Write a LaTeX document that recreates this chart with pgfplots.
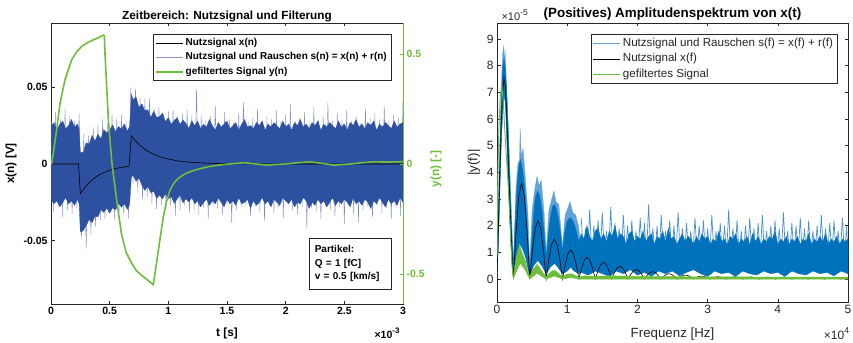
\documentclass[border=0pt]{standalone}
\usepackage{pgfplots}
\pgfplotsset{compat=1.18}
\usepackage{fontspec}
\setmainfont{Liberation Sans}
\definecolor{lblue}{RGB}{45,80,160}
\definecolor{lbluelight}{RGB}{125,140,205}
\definecolor{legblue}{RGB}{140,150,210}
\definecolor{mgreen}{RGB}{110,190,60}
\definecolor{rblue}{RGB}{0,114,189}
\definecolor{rbluelight}{RGB}{95,162,218}
\definecolor{rspike}{RGB}{70,145,210}
\definecolor{axgray}{RGB}{38,38,38}
\newcommand{\fLtick}{\fontsize{10.5bp}{12.6bp}\selectfont\bfseries}
\newcommand{\fLleg}{\fontsize{10bp}{12bp}\selectfont\bfseries}
\newcommand{\fLlab}{\fontsize{11.8bp}{14bp}\selectfont\bfseries}
\newcommand{\fRtick}{\fontsize{12bp}{14bp}\selectfont}
\newcommand{\fRleg}{\fontsize{11.6bp}{14bp}\selectfont}
\newcommand{\fRlab}{\fontsize{13.3bp}{16bp}\selectfont}
\newcommand{\fRtitle}{\fontsize{13.4bp}{16bp}\selectfont\bfseries}
\begin{document}
\begin{tikzpicture}[x=1bp,y=1bp]
\path[use as bounding box] (0,0) rectangle (853,342);
% ================= LEFT: time domain =================
\begin{axis}[
  at={(51bp,38bp)}, anchor=south west, scale only axis,
  width=352bp, height=281bp,
  xmin=0, xmax=3, ymin=-0.0913, ymax=0.0919,
  xtick={0,0.5,1,1.5,2,2.5,3},
  xticklabels={0,0.5,1,1.5,2,2.5,3},
  ytick={-0.05,0,0.05}, yticklabels={-0.05,0,0.05},
  scaled y ticks=false, scaled x ticks=false,
  ytick pos=left, xtick pos=both,
  tick align=inside, major tick length=3.5bp,
  axis line style={axgray, line width=0.5bp},
  tick style={axgray, line width=0.5bp},
  ticklabel style={font=\fLtick, text=black},
  /pgf/number format/assume math mode=true,
  xlabel={t [s]}, ylabel={x(n) [V]},
  xlabel style={font=\fLlab, at={(axis description cs:0.5,-0.114)}, anchor=base},
  ylabel style={font=\fLlab, at={(axis description cs:-0.1136,0.5)}, anchor=center},
  every axis title shift=0pt,
  title={Zeitbereich: Nutzsignal und Filterung},
  title style={font=\fLlab, at={(axis description cs:0.5,1.0142)}, anchor=base},
  legend cell align=left,
  legend image code/.code={\draw[#1] (0bp,0bp) -- (27bp,0bp);},
  legend style={at={(0.966,0.961)}, anchor=north east, draw=axgray, line width=0.5bp,
    fill=white, font=\fLleg, inner xsep=2bp, inner ysep=1.5bp,
    nodes={text height=7.5bp, text depth=2.5bp, inner ysep=2.25bp, inner xsep=2bp}},
]
% noise spikes (light)
\addplot[lbluelight, line width=0.4bp, forget plot] coordinates {
(0,0.030)(0.02,-0.031)(0.04,0.034)(0.06,-0.028)(0.08,0.029)(0.10,-0.035)(0.12,0.036)(0.14,-0.030)(0.16,0.031)(0.18,-0.033)(0.20,0.028)(0.22,-0.029)(0.24,0.033)(0.26,-0.0483)(0.28,0.020)(0.30,-0.0552)(0.32,0.0185)(0.34,-0.0461)(0.36,0.0242)(0.38,-0.0407)(0.40,0.0254)(0.42,-0.0368)(0.44,0.029)(0.46,-0.0363)(0.48,0.0264)(0.50,-0.0321)(0.52,0.0324)(0.54,-0.0362)(0.56,0.0292)(0.58,-0.0315)(0.60,0.0318)(0.62,-0.033)(0.64,0.0283)(0.66,-0.0355)(0.68,0.050)(0.70,-0.0132)(0.72,0.0491)(0.74,-0.0185)(0.76,0.0431)(0.78,-0.0232)(0.80,0.0427)(0.82,-0.0214)(0.84,0.0427)(0.86,-0.0261)(0.88,0.0362)(0.90,-0.0295)(0.92,0.037)(0.94,-0.0266)(0.96,0.032)(0.98,-0.0305)(1.00,0.0342)(1.02,-0.0271)(1.04,0.0356)(1.06,-0.0337)(1.08,0.031)(1.10,-0.0302)(1.12,0.0326)(1.14,-0.0275)(1.16,0.0353)(1.18,-0.0318)(1.20,0.0311)(1.22,-0.030)(1.24,0.049)(1.26,-0.0332)(1.28,0.0317)(1.30,-0.0284)
(1.32,0.028)(1.34,-0.036)(1.36,0.031)(1.38,-0.027)(1.40,0.038)(1.42,-0.029)(1.44,0.027)(1.46,-0.033)(1.48,0.034)(1.50,-0.027)(1.52,0.029)(1.54,-0.038)(1.56,0.027)(1.58,-0.030)(1.60,0.033)(1.62,-0.028)(1.64,0.040)(1.66,-0.027)(1.68,0.028)(1.70,-0.034)(1.72,0.030)(1.74,-0.028)(1.76,0.036)(1.78,-0.031)(1.80,0.027)(1.82,-0.037)(1.84,0.031)(1.86,-0.027)(1.88,0.029)(1.90,-0.032)(1.92,0.035)(1.94,-0.028)(1.96,0.028)(1.98,-0.035)(2.00,0.032)(2.02,-0.027)(2.04,0.039)(2.06,-0.030)(2.08,0.028)(2.10,-0.033)(2.12,0.030)(2.14,-0.028)(2.16,0.034)(2.18,-0.042)(2.20,0.027)(2.22,-0.029)(2.24,0.037)(2.26,-0.031)(2.28,0.029)(2.30,-0.036)(2.32,0.031)(2.34,-0.027)(2.36,0.040)(2.38,-0.030)(2.40,0.028)(2.42,-0.034)(2.44,0.033)(2.46,-0.028)(2.48,0.029)(2.50,-0.039)(2.52,0.035)(2.54,-0.027)(2.56,0.028)(2.58,-0.033)(2.60,0.031)(2.62,-0.038)(2.64,0.027)(2.66,-0.030)(2.68,0.036)(2.70,-0.028)(2.72,0.030)(2.74,-0.035)(2.76,0.033)(2.78,-0.027)(2.80,0.029)(2.82,-0.032)(2.84,0.038)(2.86,-0.029)(2.88,0.028)(2.90,-0.036)(2.92,0.032)(2.94,-0.028)(2.96,0.030)(2.98,-0.034)(3.00,0.042)};
% dense noise core
\addplot[draw=lblue, line width=0.3bp, fill=lblue, forget plot] coordinates {
(0,0.024)(0.025,0.027)(0.05,0.022)(0.075,0.026)(0.1,0.028)(0.125,0.023)(0.15,0.025)(0.175,0.029)(0.2,0.024)(0.225,0.026)(0.24,0.023)
(0.25,0.0076)(0.275,0.0075)(0.3,0.0138)(0.325,0.0128)(0.35,0.0186)(0.375,0.015)(0.4,0.0194)(0.425,0.0164)(0.45,0.0224)(0.475,0.0202)(0.5,0.0219)(0.525,0.0255)(0.55,0.021)(0.575,0.0244)(0.6,0.0228)(0.625,0.0261)(0.65,0.0214)(0.67,0.0245)
(0.685,0.0453)(0.7,0.0418)(0.725,0.0437)(0.75,0.0368)(0.775,0.0391)(0.8,0.0347)(0.825,0.0354)(0.85,0.0303)(0.875,0.0343)(0.9,0.0305)(0.925,0.0308)(0.95,0.0332)(0.975,0.0276)(1.0,0.0302)(1.025,0.0258)(1.05,0.0284)(1.075,0.0301)(1.1,0.0258)(1.125,0.0286)(1.15,0.0264)(1.175,0.0232)(1.2,0.0281)
(1.225,0.025)(1.25,0.028)(1.275,0.023)(1.3,0.026)(1.325,0.024)(1.35,0.029)(1.375,0.025)(1.4,0.022)(1.425,0.027)(1.45,0.024)(1.475,0.026)(1.5,0.028)(1.525,0.023)(1.55,0.025)(1.575,0.027)(1.6,0.022)(1.625,0.026)(1.65,0.029)(1.675,0.024)(1.7,0.025)(1.725,0.023)(1.75,0.027)(1.775,0.025)(1.8,0.028)(1.825,0.022)(1.85,0.026)(1.875,0.024)(1.9,0.027)(1.925,0.025)(1.95,0.023)(1.975,0.028)(2.0,0.024)(2.025,0.026)(2.05,0.022)(2.075,0.027)(2.1,0.025)(2.125,0.029)(2.15,0.024)(2.175,0.026)(2.2,0.023)(2.225,0.027)(2.25,0.025)(2.275,0.028)(2.3,0.022)(2.325,0.026)(2.35,0.024)(2.375,0.027)(2.4,0.025)(2.425,0.023)(2.45,0.028)(2.475,0.024)(2.5,0.026)(2.525,0.022)(2.55,0.027)(2.575,0.025)(2.6,0.029)(2.625,0.024)(2.65,0.026)(2.675,0.023)(2.7,0.027)(2.725,0.025)(2.75,0.028)(2.775,0.022)(2.8,0.026)(2.825,0.024)(2.85,0.027)(2.875,0.025)(2.9,0.023)(2.925,0.028)(2.95,0.024)(2.975,0.026)(3.0,0.027)
(3.0,-0.025)(2.975,-0.022)(2.95,-0.027)(2.925,-0.024)(2.9,-0.026)(2.875,-0.023)(2.85,-0.028)(2.825,-0.025)(2.8,-0.022)(2.775,-0.026)(2.75,-0.024)(2.725,-0.029)(2.7,-0.025)(2.675,-0.023)(2.65,-0.027)(2.625,-0.024)(2.6,-0.026)(2.575,-0.022)(2.55,-0.028)(2.525,-0.025)(2.5,-0.023)(2.475,-0.026)(2.45,-0.024)(2.425,-0.027)(2.4,-0.022)(2.375,-0.025)(2.35,-0.028)(2.325,-0.024)(2.3,-0.026)(2.275,-0.023)(2.25,-0.027)(2.225,-0.025)(2.2,-0.029)(2.175,-0.024)(2.15,-0.022)(2.125,-0.026)(2.1,-0.025)(2.075,-0.028)(2.05,-0.023)(2.025,-0.026)(2.0,-0.024)(1.975,-0.022)(1.95,-0.027)(1.925,-0.025)(1.9,-0.023)(1.875,-0.028)(1.85,-0.024)(1.825,-0.026)(1.8,-0.022)(1.775,-0.025)(1.75,-0.027)(1.725,-0.024)(1.7,-0.029)(1.675,-0.023)(1.65,-0.025)(1.625,-0.026)(1.6,-0.022)(1.575,-0.027)(1.55,-0.024)(1.525,-0.026)(1.5,-0.023)(1.475,-0.028)(1.45,-0.025)(1.425,-0.022)(1.4,-0.026)(1.375,-0.024)(1.35,-0.027)(1.325,-0.023)(1.3,-0.025)(1.275,-0.028)(1.25,-0.024)(1.225,-0.026)
(1.2,-0.0219)(1.175,-0.0248)(1.15,-0.0226)(1.125,-0.0254)(1.1,-0.0202)(1.075,-0.0229)(1.05,-0.0256)(1.025,-0.0212)(1.0,-0.0228)(0.975,-0.0194)(0.95,-0.0228)(0.925,-0.0202)(0.9,-0.0225)(0.875,-0.0177)(0.85,-0.0187)(0.825,-0.0146)(0.8,-0.0173)(0.775,-0.0139)(0.75,-0.0092)(0.725,-0.0113)(0.7,-0.0072)(0.685,-0.0087)
(0.67,-0.0265)(0.65,-0.0296)(0.625,-0.0259)(0.6,-0.0282)(0.575,-0.0256)(0.55,-0.030)(0.525,-0.0285)(0.5,-0.0321)(0.475,-0.0288)(0.45,-0.0316)(0.425,-0.0296)(0.4,-0.0346)(0.375,-0.034)(0.35,-0.0384)(0.325,-0.0362)(0.3,-0.0402)(0.275,-0.0435)(0.25,-0.0444)
(0.24,-0.026)(0.225,-0.023)(0.2,-0.027)(0.175,-0.024)(0.15,-0.026)(0.125,-0.022)(0.1,-0.025)(0.075,-0.028)(0.05,-0.024)(0.025,-0.026)(0,-0.023)} -- cycle;
% useful signal x(n)
\addplot[black, line width=0.6bp] coordinates {
(0,0)(0.235,0)(0.25,-0.0194)(0.27,-0.0171)(0.30,-0.0142)(0.33,-0.0118)(0.36,-0.0098)(0.40,-0.0076)(0.45,-0.0056)(0.50,-0.0041)(0.55,-0.0030)(0.60,-0.0022)(0.65,-0.0016)(0.665,-0.0015)(0.685,0.0183)(0.71,0.0159)(0.74,0.0135)(0.78,0.0108)(0.82,0.0086)(0.87,0.0065)(0.93,0.0047)(1.00,0.0032)(1.08,0.0020)(1.17,0.0012)(1.28,0.0007)(1.40,0.0003)(1.60,0.0001)(1.80,0)(3.0,0)};
\addlegendentry{Nutzsignal x(n)}
\addlegendimage{legblue, line width=0.8bp}
\addlegendentry{Nutzsignal und Rauschen s(n) = x(n) + r(n)}
\addlegendimage{mgreen, line width=1.6bp}
\addlegendentry{gefiltertes Signal y(n)}
\end{axis}
\begin{axis}[
  at={(51bp,38bp)}, anchor=south west, scale only axis,
  width=352bp, height=281bp,
  xmin=0, xmax=3, ymin=-0.635, ymax=0.64,
  axis y line*=right, axis x line=none,
  ytick={-0.5,0,0.5}, yticklabels={-0.5,0,0.5},
  scaled y ticks=false,
  tick align=inside, major tick length=3.5bp,
  y axis line style={mgreen, line width=0.5bp},
  ytick style={mgreen, line width=0.5bp},
  yticklabel style={font=\fLtick, text=mgreen},
  /pgf/number format/assume math mode=true,
  ylabel={y(n) [-]},
  ylabel style={font=\fLlab, text=mgreen, at={(axis description cs:1.094,0.48)}, anchor=center},
]
\addplot[mgreen, line width=1.6bp] coordinates {
(0,0)(0.006,0.003)(0.02,0.05)(0.048,0.155)(0.077,0.276)(0.119,0.382)(0.176,0.473)(0.22,0.51)(0.261,0.533)(0.304,0.549)(0.361,0.564)(0.40,0.572)(0.446,0.585)(0.455,0.58)(0.46,0.503)(0.489,0.2)(0.52,0.0)(0.56,-0.164)(0.60,-0.315)(0.64,-0.40)(0.688,-0.451)(0.73,-0.485)(0.773,-0.505)(0.82,-0.525)(0.872,-0.547)(0.915,-0.391)(0.957,-0.24)(0.985,-0.17)(1.014,-0.118)(1.05,-0.085)(1.085,-0.065)(1.15,-0.042)(1.227,-0.027)(1.33,-0.013)(1.426,-0.005)(1.55,0.002)(1.653,0.006)(1.75,0.0)(1.84,-0.005)(1.92,-0.002)(2.0,0.0)(2.1,0.006)(2.21,0.01)(2.3,0.004)(2.41,-0.005)(2.55,0.0)(2.65,0.006)(2.75,0.01)(2.85,0.009)(2.98,0.01)(3.0,0.012)};
\node[draw=axgray, fill=white, line width=0.5bp, align=left, anchor=south east,
  text width=70bp, inner xsep=6bp, inner ysep=7bp,
  font=\fontsize{10bp}{13.4bp}\selectfont\bfseries]
  at (rel axis cs:0.966,0.053) {Partikel:\\Q = 1 [fC]\\v = 0.5 [km/s]};
\end{axis}
\node[anchor=base east, font=\fLtick] at (403,4) {×10\raisebox{0.45em}{\fontsize{8bp}{9bp}\selectfont -3}};
% ================= RIGHT: spectrum =================
\begin{axis}[
  at={(497bp,40bp)}, anchor=south west, scale only axis,
  width=351bp, height=279bp,
  xmin=0, xmax=5, ymin=-0.86, ymax=9.6,
  xtick={0,1,2,3,4,5}, ytick={0,1,2,3,4,5,6,7,8,9},
  xtick pos=both, ytick pos=both,
  tick align=inside, major tick length=3.5bp,
  axis line style={axgray, line width=0.5bp},
  tick style={axgray, line width=0.5bp},
  ticklabel style={font=\fRtick, text=axgray},
  /pgf/number format/assume math mode=true,
  xlabel={Frequenz [Hz]}, ylabel={|y(f)|},
  xlabel style={font=\fRlab, text=axgray, at={(axis description cs:0.5,-0.128)}, anchor=base},
  ylabel style={font=\fRlab, text=axgray, at={(axis description cs:-0.0655,0.5)}, anchor=center},
  every axis title shift=0pt,
  title={(Positives) Amplitudenspektrum von x(t)},
  title style={font=\fRtitle, text=black, at={(axis description cs:0.5,1.0205)}, anchor=base},
  legend cell align=left,
  legend image code/.code={\draw[#1] (0bp,0bp) -- (27bp,0bp);},
  legend style={at={(0.9695,0.9595)}, anchor=north east, draw=axgray, line width=0.5bp,
    fill=white, font=\fRleg, text=axgray, inner xsep=2bp, inner ysep=1.5bp,
    nodes={text height=8.5bp, text depth=2.8bp, inner ysep=2bp, inner xsep=2bp}},
]
\addlegendimage{rbluelight, line width=0.9bp}
\addlegendentry{Nutzsignal und Rauschen s(f) = x(f) + r(f)}
% noisy spectrum, light spikes in the lobe region
\addplot[draw=rbluelight, line width=0.3bp, fill=rbluelight, forget plot] coordinates {
(0,0.5)(0.03,4.0)(0.06,7.2)(0.08,8.4)(0.095,8.75)(0.105,8.0)(0.115,8.6)(0.13,7.6)(0.16,5.8)(0.2,2.9)(0.233,0.6)(0.27,3.4)(0.30,4.4)(0.32,4.3)(0.33,5.65)(0.345,4.6)(0.37,4.9)(0.4,3.9)(0.44,2.5)(0.467,0.5)(0.5,2.6)(0.54,3.4)(0.57,3.85)(0.6,3.5)(0.63,3.7)(0.67,2.5)(0.70,1.0)(0.74,2.6)(0.78,3.0)(0.81,3.3)(0.84,2.9)(0.88,2.8)(0.933,1.2)(0.97,2.4)(1.0,2.6)(1.04,2.9)(1.08,2.5)(1.12,2.4)(1.16,2.0)(1.2,1.2)
(1.2,0.25)(1.167,0.2)(1.1,0.3)(1.05,0.45)(1.0,0.3)(0.933,0.2)(0.88,0.4)(0.82,0.6)(0.76,0.45)(0.70,0.2)(0.64,0.5)(0.58,0.7)(0.52,0.5)(0.467,0.1)(0.45,0.3)(0.41,0.8)(0.37,1.1)(0.33,1.3)(0.29,0.9)(0.25,0.3)(0.233,0.1)(0.22,0.3)(0.2,1.2)(0.18,2.4)(0.16,3.7)(0.14,5.3)(0.12,6.6)(0.1,6.9)(0.08,6.3)(0.06,5.1)(0.04,3.3)(0.02,1.3)(0,0)} -- cycle;
% noisy spectrum, light spikes at higher frequencies
\addplot[rspike, line width=0.7bp, forget plot] coordinates {
(1.20,2.3)(1.23,0.9)(1.26,1.9)(1.29,0.9)(1.32,2.6)(1.35,0.9)(1.38,2.0)(1.41,0.9)(1.44,2.2)(1.47,0.9)(1.50,2.5)(1.53,0.9)(1.56,1.8)(1.59,0.9)(1.62,2.7)(1.65,0.9)(1.68,2.1)(1.71,0.9)(1.74,1.9)(1.77,0.9)(1.80,2.4)(1.83,0.9)(1.86,2.0)(1.89,0.9)(1.92,2.2)(1.95,0.9)(1.98,1.8)(2.01,0.9)(2.04,2.3)(2.07,0.9)(2.10,2.1)(2.13,0.9)(2.16,2.8)(2.19,0.9)(2.22,1.9)(2.25,0.9)(2.28,2.0)(2.31,0.9)(2.34,2.4)(2.37,0.9)(2.40,1.8)(2.43,0.9)(2.46,2.2)(2.49,0.9)(2.52,2.0)(2.55,0.9)(2.58,2.5)(2.61,0.9)(2.64,1.9)(2.67,0.9)(2.70,2.1)(2.73,0.9)(2.76,1.8)(2.79,0.9)(2.82,2.3)(2.85,0.9)(2.88,2.0)(2.91,0.9)(2.94,2.2)(2.97,0.9)(3.00,1.9)(3.03,0.9)(3.06,2.4)(3.09,0.9)(3.12,1.8)(3.15,0.9)(3.18,2.1)(3.21,0.9)(3.24,2.0)(3.27,0.9)(3.30,2.6)(3.33,0.9)(3.36,1.9)(3.39,0.9)(3.42,2.2)(3.45,0.9)(3.48,1.8)(3.51,0.9)(3.54,2.0)(3.57,0.9)(3.60,2.3)(3.63,0.9)(3.66,1.9)(3.69,0.9)(3.72,2.1)(3.75,0.9)(3.78,2.4)(3.81,0.9)(3.84,1.8)(3.87,0.9)(3.90,2.0)(3.93,0.9)(3.96,2.2)(3.99,0.9)(4.02,1.9)(4.05,0.9)(4.08,2.5)(4.11,0.9)(4.14,1.8)(4.17,0.9)(4.20,2.1)(4.23,0.9)(4.26,2.0)(4.29,0.9)(4.32,2.3)(4.35,0.9)(4.38,1.9)(4.41,0.9)(4.44,2.2)(4.47,0.9)(4.50,1.8)(4.53,0.9)(4.56,2.0)(4.59,0.9)(4.62,2.4)(4.65,0.9)(4.68,1.9)(4.71,0.9)(4.74,2.1)(4.77,0.9)(4.80,2.2)(4.83,0.9)(4.86,1.8)(4.89,0.9)(4.92,2.3)(4.95,0.9)(4.98,2.0)(5.0,0.9)};
% noisy spectrum, dense part
\addplot[draw=rblue, line width=0.3bp, fill=rblue, forget plot] coordinates {
(0,0.3)(0.02,2.6)(0.04,4.6)(0.06,6.5)(0.08,7.9)(0.1,8.3)(0.12,7.9)(0.14,6.9)(0.16,5.4)(0.18,3.8)(0.2,2.4)(0.22,1.1)(0.233,0.5)(0.25,1.6)(0.27,2.8)(0.29,3.7)(0.31,4.2)(0.33,4.5)(0.35,4.3)(0.37,4.0)(0.39,3.5)(0.41,2.8)(0.43,2.0)(0.45,1.1)(0.467,0.4)(0.49,1.3)(0.52,2.4)(0.55,3.1)(0.58,3.3)(0.61,3.1)(0.64,2.6)(0.67,1.8)(0.70,0.8)(0.73,1.6)(0.76,2.3)(0.79,2.7)(0.82,2.8)(0.85,2.6)(0.88,2.2)(0.91,1.6)(0.933,1.0)(0.96,1.7)(1.0,2.2)(1.04,2.3)(1.08,2.2)(1.12,1.9)(1.167,1.4)
(1.2,1.7)(1.24,1.5)(1.28,2.0)(1.32,1.6)(1.36,1.4)(1.40,1.8)(1.44,1.9)(1.48,1.5)(1.52,1.7)(1.56,1.4)(1.60,1.8)(1.64,1.6)(1.68,2.0)(1.72,1.5)(1.76,1.7)(1.80,1.6)(1.84,1.3)(1.88,1.7)(1.92,1.8)(1.96,1.4)(2.00,1.6)(2.04,1.5)(2.08,1.8)(2.12,1.4)(2.16,1.6)(2.20,1.7)(2.24,1.3)(2.28,1.6)(2.32,1.5)(2.36,1.8)(2.40,1.4)(2.44,1.9)(2.48,1.5)(2.52,1.6)(2.56,1.3)(2.60,1.5)(2.64,1.7)(2.68,1.4)(2.72,1.6)(2.76,1.5)(2.80,1.3)(2.84,1.6)(2.88,1.4)(2.92,1.7)(2.96,1.5)(3.00,1.6)(3.04,1.3)(3.08,1.5)(3.12,1.4)(3.16,1.8)(3.20,1.4)(3.24,1.5)(3.28,1.3)(3.32,1.6)(3.36,1.5)(3.40,1.7)(3.44,1.3)(3.48,1.5)(3.52,1.4)(3.56,1.6)(3.60,1.3)(3.64,1.7)(3.68,1.4)(3.72,1.6)(3.76,1.3)(3.80,1.5)(3.84,1.4)(3.88,1.6)(3.92,1.5)(3.96,1.8)(4.00,1.3)(4.04,1.5)(4.08,1.4)(4.12,1.6)(4.16,1.3)(4.20,1.5)(4.24,1.4)(4.28,1.6)(4.32,1.3)(4.36,1.5)(4.40,1.4)(4.44,1.7)(4.48,1.3)(4.52,1.5)(4.56,1.4)(4.60,1.6)(4.64,1.4)(4.68,1.7)(4.72,1.3)(4.76,1.5)(4.80,1.4)(4.84,1.6)(4.88,1.3)(4.92,1.5)(4.96,1.4)(5.00,1.5)
(5.0,0.2)(4.9,0.3)(4.8,0.12)(4.7,0.25)(4.6,0.2)(4.5,0.3)(4.4,0.15)(4.3,0.2)(4.2,0.3)(4.1,0.1)(4.0,0.25)(3.9,0.2)(3.8,0.3)(3.7,0.15)(3.6,0.2)(3.5,0.3)(3.4,0.1)(3.3,0.25)(3.2,0.2)(3.1,0.3)(3.0,0.1)(2.9,0.2)(2.8,0.35)(2.7,0.25)(2.6,0.12)(2.5,0.3)(2.4,0.2)(2.3,0.3)(2.2,0.1)(2.1,0.25)(2.0,0.15)(1.9,0.35)(1.8,0.2)(1.7,0.3)(1.6,0.1)(1.5,0.2)(1.4,0.3)(1.3,0.15)(1.2,0.25)(1.167,0.2)(1.1,0.3)(1.05,0.45)(1.0,0.3)(0.933,0.2)(0.88,0.4)(0.82,0.6)(0.76,0.45)(0.70,0.2)(0.64,0.5)(0.58,0.7)(0.52,0.5)(0.467,0.1)(0.45,0.3)(0.41,0.8)(0.37,1.1)(0.33,1.3)(0.29,0.9)(0.25,0.3)(0.233,0.1)(0.22,0.3)(0.2,1.2)(0.18,2.4)(0.16,3.7)(0.14,5.3)(0.12,6.6)(0.1,6.9)(0.08,6.3)(0.06,5.1)(0.04,3.3)(0.02,1.3)(0,0)} -- cycle;
% useful signal spectrum x(f)
\addplot[black, line width=0.6bp] coordinates {
(0,0)(0.02,2.0)(0.04,4.0)(0.06,5.8)(0.08,7.0)(0.1,7.55)(0.12,7.2)(0.14,6.0)(0.162,4.45)(0.18,3.1)(0.2,1.8)(0.22,0.6)(0.2333,0)
(0.2722,1.8)(0.3111,3.12)(0.35,3.6)(0.3889,3.12)(0.4278,1.8)(0.4667,0)
(0.5056,1.1)(0.5444,1.905)(0.5833,2.2)(0.6222,1.905)(0.6611,1.1)(0.7,0)
(0.7389,0.75)(0.7778,1.3)(0.8167,1.5)(0.8556,1.3)(0.8944,0.75)(0.9333,0)
(0.9722,0.55)(1.0111,0.953)(1.05,1.1)(1.0889,0.953)(1.1278,0.55)(1.1667,0)
(1.2056,0.41)(1.2444,0.71)(1.2833,0.82)(1.3222,0.71)(1.3611,0.41)(1.4,0)
(1.4389,0.315)(1.4778,0.546)(1.5167,0.63)(1.5556,0.546)(1.5944,0.315)(1.6333,0)
(1.6722,0.24)(1.7111,0.416)(1.75,0.48)(1.7889,0.416)(1.8278,0.24)(1.8667,0)
(1.9056,0.18)(1.9444,0.312)(1.9833,0.36)(2.0222,0.312)(2.0611,0.18)(2.1,0)
(2.1389,0.14)(2.1778,0.242)(2.2167,0.28)(2.2556,0.242)(2.2944,0.14)(2.3333,0)
(2.3722,0.1)(2.4111,0.173)(2.45,0.2)(2.4889,0.173)(2.5278,0.1)(2.5667,0)
(2.6056,0.075)(2.6444,0.13)(2.6833,0.15)(2.7222,0.13)(2.7611,0.075)(2.8,0)
(2.8389,0.055)(2.8778,0.095)(2.9167,0.11)(2.9556,0.095)(2.9944,0.055)(3.0333,0)
(3.0917,0.063)(3.15,0.09)(3.2083,0.063)(3.2667,0)
(3.325,0.06)(3.3833,0.085)(3.4417,0.06)(3.5,0)
(3.5583,0.056)(3.6167,0.08)(3.675,0.056)(3.7333,0)
(3.7917,0.053)(3.85,0.075)(3.9083,0.053)(3.9667,0)
(4.025,0.05)(4.0833,0.07)(4.1417,0.05)(4.2,0)
(4.2583,0.046)(4.3167,0.065)(4.375,0.046)(4.4333,0)
(4.4917,0.042)(4.55,0.06)(4.6083,0.042)(4.6667,0)
(4.725,0.042)(4.7833,0.06)(4.8417,0.042)(4.9,0)
(4.9583,0.04)(5.0,0.05)};
\addlegendentry{Nutzsignal x(f)}
% filtered signal spectrum
\addplot[draw=mgreen, line width=0.5bp, fill=mgreen, forget plot] coordinates {
(0.233,0.1)(0.26,0.6)(0.29,1.0)(0.32,1.3)(0.34,1.1)(0.37,0.9)(0.40,0.7)(0.44,0.3)(0.467,0.08)(0.50,0.3)(0.54,0.45)(0.57,0.55)(0.60,0.45)(0.65,0.25)(0.70,0.08)(0.74,0.2)(0.78,0.3)(0.82,0.33)(0.86,0.25)(0.933,0.08)(1.0,0.18)(1.05,0.2)(1.1,0.15)(1.167,0.07)(1.25,0.12)(1.4,0.1)(1.6,0.12)(2.0,0.1)(2.5,0.09)(3,0.08)(3.5,0.08)(4,0.07)(4.5,0.07)(5,0.07)
(5,0.0)(3,0.0)(1.167,0.0)(1.05,0.06)(0.933,0.0)(0.82,0.12)(0.70,0.0)(0.57,0.22)(0.467,0.0)(0.40,0.35)(0.33,0.6)(0.27,0.25)(0.233,0)} -- cycle;
\addplot[mgreen, line width=0.9bp] coordinates {
(0,0.8)(0.01,3.5)(0.025,5.5)(0.045,6.8)(0.067,7.27)(0.09,6.6)(0.115,5.4)(0.138,4.4)(0.162,3.4)(0.18,2.4)(0.195,1.5)(0.21,0.7)(0.225,0.15)(0.24,0.05)};
\addlegendentry{gefiltertes Signal}
\end{axis}
\node[anchor=base west, font=\fontsize{11bp}{13bp}\selectfont, text=axgray] at (498,322) {×10\raisebox{0.45em}{\fontsize{8.5bp}{9bp}\selectfont -5}};
\node[anchor=base east, font=\fRtick, text=axgray] at (852.5,3) {×10\raisebox{0.45em}{\fontsize{8.5bp}{9bp}\selectfont 4}};
\end{tikzpicture}
\end{document}
